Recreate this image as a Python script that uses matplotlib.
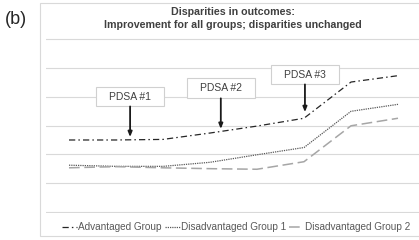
import matplotlib
matplotlib.use("Agg")
import matplotlib.pyplot as plt
from matplotlib.patches import Rectangle

plt.rcParams['font.family'] = ['Liberation Sans', 'DejaVu Sans']

# ---- data ----
periods = list(range(8))
advantaged = [2.50, 2.50, 2.52, 2.74, 2.98, 3.25, 4.50, 4.72]
disadv1 = [1.63, 1.59, 1.59, 1.73, 1.99, 2.24, 3.49, 3.73]
disadv2 = [1.54, 1.58, 1.54, 1.51, 1.49, 1.75, 2.99, 3.25]
series_labels = ["Advantaged Group", "Disadvantaged Group 1", "Disadvantaged Group 2"]
pdsa_labels = ["PDSA #1", "PDSA #2", "PDSA #3"]
pdsa_x = [1.3, 3.23, 5.02]
pdsa_tip = [2.60, 2.88, 3.46]
pdsa_box_y = [4.00, 4.28, 4.76]

W, H = 419, 240
fig = plt.figure(figsize=(W / 100, H / 100), dpi=100)

# outer chart frame
frame = Rectangle((40 / W, 1 - 236 / H), (W + 5 - 40) / W, (236 - 3) / H,
                  transform=fig.transFigure, fill=True, facecolor='white',
                  edgecolor='#d9d9d9', lw=0.8, zorder=-10)
fig.patches.append(frame)

ax = fig.add_axes([45.5 / W, 1 - 213 / H, 376 / W, 175 / H])
ax.set_zorder(1)
ax.set_facecolor('none')
ax.set_xlim(-0.5, 7.5)
ax.set_ylim(-0.02, 6.02)
for s in ax.spines.values():
    s.set_visible(False)
ax.set_xticks([])
ax.set_yticks(range(7))
ax.tick_params(left=False, labelleft=False)
ax.grid(axis='y', color='#d9d9d9', lw=0.8)
ax.set_axisbelow(True)

l1, = ax.plot(periods, advantaged, color='#262626', lw=0.9, linestyle=(0, (5, 2.5, 1.2, 2.5)))
l2, = ax.plot(periods, disadv1, color='#595959', lw=0.9, linestyle=(0, (1, 0.8)))
l3, = ax.plot(periods, disadv2, color='#a6a6a6', lw=1.1, linestyle=(0, (7, 3)))

bw = 68 / 47.0
bh = 20 / 29.2
for lab, x, tip, by in zip(pdsa_labels, pdsa_x, pdsa_tip, pdsa_box_y):
    ax.add_patch(Rectangle((x - bw / 2, by - bh / 2), bw, bh, facecolor='white',
                           edgecolor='#d0d0d0', lw=0.8, zorder=3))
    ax.text(x, by, lab, ha='center', va='center', fontsize=7.5, color='#404040', zorder=4)
    ax.annotate('', xy=(x, tip), xytext=(x, by - bh / 2),
                arrowprops=dict(arrowstyle='-|>,head_length=0.3,head_width=0.12',
                                color='#1a1a1a', lw=1.3, shrinkA=0, shrinkB=0), zorder=4)

fig.text(233 / W, 1 - 12 / H, "Disparities in outcomes:", ha='center', va='center',
         fontsize=7.7, fontweight='bold', color='#404040')
fig.text(233 / W, 1 - 25 / H, "Improvement for all groups; disparities unchanged", ha='center',
         va='center', fontsize=7.7, fontweight='bold', color='#404040')
fig.text(5 / W, 1 - 20 / H, "(b)", ha='left', va='center', fontsize=13, color='#262626')

leg = fig.legend([l1, l2, l3], series_labels, loc='center', bbox_to_anchor=(236 / W, 1 - 227 / H),
                 ncol=3, frameon=False, fontsize=7.2, handlelength=1.5, handletextpad=0.1,
                 columnspacing=0.3, borderpad=0)
for t in leg.get_texts():
    t.set_color('#595959')

fig.savefig('out.png', dpi=100)
